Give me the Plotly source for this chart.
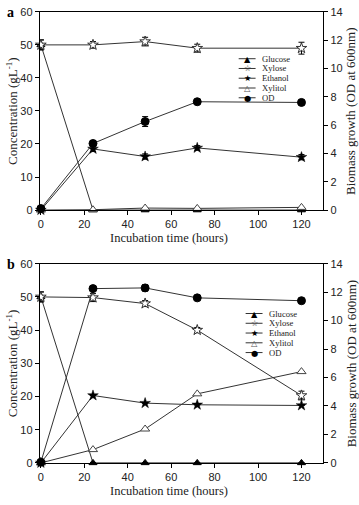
import plotly.graph_objects as go

W, H = 359, 505

hours = [0, 24, 48, 72, 120]
series_names = ["Glucose", "Xylose", "Ethanol", "Xylitol", "OD"]

# Panel a
a_glucose = [50, 0, 0, 0, 0]
a_glucose_err = [1.5, 0, 0, 0, 0]
a_xylose = [50, 50, 51, 49, 49]
a_xylose_err = [1.5, 1.0, 1.3, 1.2, 1.8]
a_ethanol = [0, 18.5, 16.2, 18.8, 16]
a_ethanol_err = [0, 0.8, 0.8, 0.7, 0.8]
a_xylitol = [0, 0.1, 0.6, 0.5, 0.8]
a_od = [0.1, 4.7, 6.25, 7.65, 7.6]
a_od_err = [0, 0.2, 0.35, 0.1, 0.15]

# Panel b
b_glucose = [50, 0, 0, 0, 0]
b_glucose_err = [1.5, 0, 0, 0, 0]
b_xylose = [50, 49.8, 48, 40, 20.3]
b_xylose_err = [1.5, 1.2, 0.9, 0.8, 1.3]
b_ethanol = [0, 20.3, 18, 17.5, 17.3]
b_ethanol_err = [0, 0, 0, 0, 0]
b_xylitol = [0, 4, 10.2, 20.8, 27.5]
b_od = [0.05, 12.25, 12.3, 11.6, 11.4]
b_od_err = [0, 0.12, 0.22, 0.1, 0.12]

x_ticks = [0, 20, 40, 60, 80, 100, 120]
left_ticks = [0, 10, 20, 30, 40, 50, 60]
right_ticks = [0, 2, 4, 6, 8, 10, 12, 14]

LINE = "#333333"
SERIF = "Liberation Serif"
SANS = "Liberation Sans"

styles = {
    "Glucose": dict(symbol="triangle-up", color="black", line=dict(color="black", width=1), size=7),
    "Xylose": dict(symbol="star", color="white", line=dict(color="#333", width=1), size=8),
    "Ethanol": dict(symbol="star", color="black", line=dict(color="black", width=0.5), size=8),
    "Xylitol": dict(symbol="triangle-up", color="white", line=dict(color="#444", width=1), size=8),
    "OD": dict(symbol="circle", color="black", line=dict(color="black", width=1), size=8),
}

def px2x(p):
    return p / W

def px2y(p):
    return 1 - p / H

fig = go.Figure()

panels = [
    dict(tag="a", xa="x", ya="y", ya2="y2", data=dict(
        Glucose=(a_glucose, a_glucose_err), Xylose=(a_xylose, a_xylose_err),
        Ethanol=(a_ethanol, a_ethanol_err), Xylitol=(a_xylitol, None), OD=(a_od, a_od_err)),
        top=6, bottom=209, leg=(238, 54, 10)),
    dict(tag="b", xa="x2", ya="y3", ya2="y4", data=dict(
        Glucose=(b_glucose, b_glucose_err), Xylose=(b_xylose, b_xylose_err),
        Ethanol=(b_ethanol, b_ethanol_err), Xylitol=(b_xylitol, None), OD=(b_od, b_od_err)),
        top=264, bottom=468, leg=(245, 315, 10)),
]

for p in panels:
    for name in series_names:
        vals, err = p["data"][name]
        st = styles[name]
        kw = {}
        if err is not None:
            kw["error_y"] = dict(type="data", array=err, visible=True, color="black", thickness=1, width=3)
        fig.add_trace(go.Scatter(
            x=hours, y=vals, mode="lines+markers", name=name, showlegend=False,
            xaxis=p["xa"], yaxis=p["ya2"] if name == "OD" else p["ya"],
            line=dict(color=LINE, width=1),
            marker=dict(symbol=st["symbol"], color=st["color"], size=st["size"], line=st["line"]),
            cliponaxis=False, **kw))

L, R = 38, 323
axis_common = dict(showline=True, linecolor="black", linewidth=1, ticks="outside", ticklen=4,
                   tickcolor="black", showgrid=False, zeroline=False,
                   tickfont=dict(family=SANS, size=11, color="#222"))

layout = dict(width=W, height=H, margin=dict(l=0, r=0, t=0, b=0),
              plot_bgcolor="white", paper_bgcolor="white", showlegend=False)

for i, p in enumerate(panels):
    dom_y = [px2y(p["bottom"]), px2y(p["top"])]
    xk = "xaxis" if i == 0 else "xaxis2"
    yk = "yaxis" if i == 0 else "yaxis3"
    y2k = "yaxis2" if i == 0 else "yaxis4"
    layout[xk] = dict(domain=[px2x(L), px2x(R)], anchor=p["ya"], range=[-0.5, 130],
                      tickvals=x_ticks, mirror=True, **axis_common)
    layout[yk] = dict(domain=dom_y, anchor=p["xa"], range=[0, 60], tickvals=left_ticks, **axis_common)
    layout[y2k] = dict(overlaying=p["ya"], anchor=p["xa"], side="right", range=[0, 14],
                       tickvals=right_ticks, **axis_common)

fig.update_layout(**layout)

annotations = []
shapes = []
glyphs = {"Glucose": ("\u25B2", "black"), "Xylose": ("\u2606", "#333"), "Ethanol": ("\u2605", "black"),
          "Xylitol": ("\u25B3", "#555"), "OD": ("\u25CF", "black")}

def ann(text, x, y, font, xanchor="center", angle=0):
    return dict(text=text, x=px2x(x), y=px2y(y), xref="paper", yref="paper", showarrow=False,
                xanchor=xanchor, yanchor="middle", textangle=angle, font=font, borderpad=0)

for p in panels:
    mid = (p["top"] + p["bottom"]) / 2
    annotations.append(ann("Concentration (gL<sup>-1</sup>)", 10, mid,
                           dict(family=SERIF, size=13, color="#222"), angle=-90))
    annotations.append(ann("Biomass growth (OD at 600nm)", 351, mid,
                           dict(family=SERIF, size=13, color="#222"), angle=-90))
    annotations.append(ann("Incubation time (hours)", 168, p["bottom"] + 29,
                           dict(family=SERIF, size=12.5, color="#222")))
    annotations.append(ann("<b>%s</b>" % p["tag"], 9, p["top"] + 1,
                           dict(family=SERIF, size=14, color="black")))
    lx, ly, dy = p["leg"]
    for k, name in enumerate(series_names):
        yy = ly + k * dy
        shapes.append(dict(type="line", xref="paper", yref="paper", x0=px2x(lx), x1=px2x(lx + 17),
                           y0=px2y(yy), y1=px2y(yy), line=dict(color=LINE, width=1)))
        g, c = glyphs[name]
        annotations.append(ann(g, lx + 8.5, yy, dict(family="DejaVu Sans", size=8.2, color=c)))
        annotations.append(ann(name, lx + 22, yy, dict(family=SERIF, size=8.6, color="#222"),
                               xanchor="left"))

fig.update_layout(annotations=annotations, shapes=shapes)
fig.write_html("out.html", config={"displayModeBar": False},
               post_script="document.body.style.margin='0';document.body.style.overflow='hidden';")
